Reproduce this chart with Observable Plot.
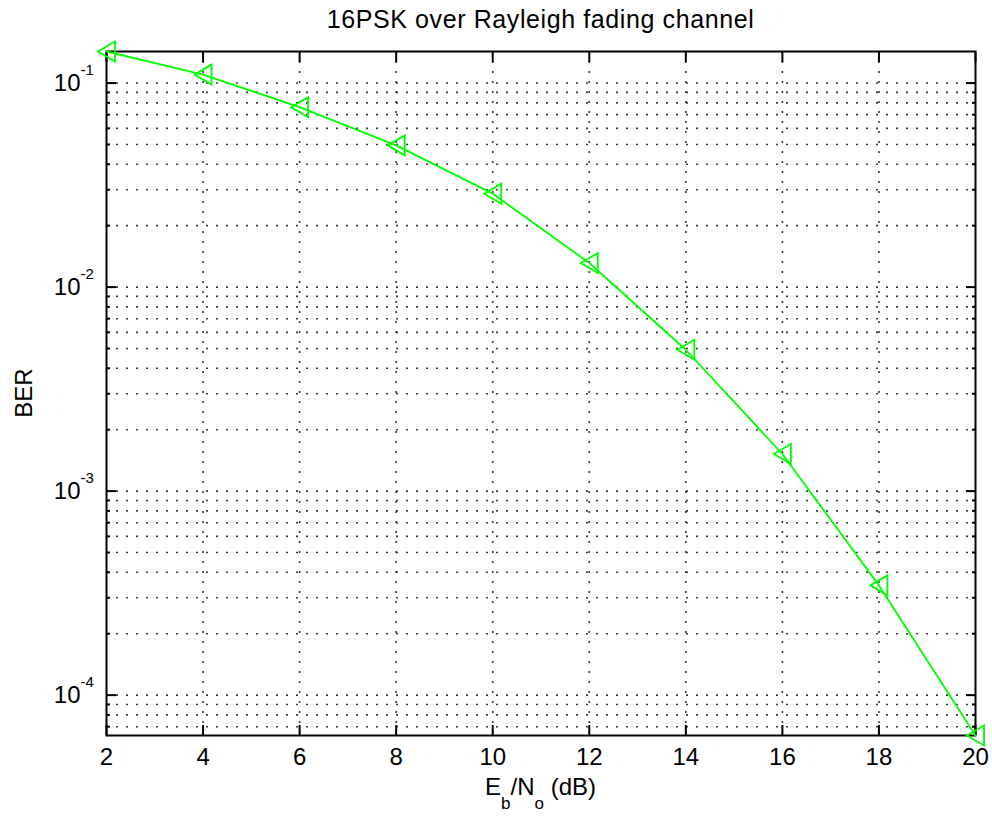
<!DOCTYPE html>
<html>
<head>
<meta charset="utf-8">
<script src="https://cdn.jsdelivr.net/npm/d3@7"></script>
<script src="https://cdn.jsdelivr.net/npm/@observablehq/plot@0.6"></script>
<style>
  html, body { margin: 0; padding: 0; background: #fff; }
</style>
</head>
<body>
<div id="chart"></div>
<script>
// ---- data ----
const ebno = [2, 4, 6, 8, 10, 12, 14, 16, 18, 20];
const ber = [0.1428, 0.110, 0.0762, 0.0495, 0.0287, 0.01312, 0.00493, 0.00152, 0.000345, 0.0000634];
const xTicks = [2, 4, 6, 8, 10, 12, 14, 16, 18, 20];
const yDecades = [1e-4, 1e-3, 1e-2, 1e-1];
const yExponents = ["-4", "-3", "-2", "-1"];
const yTickBase = "10";
const minorMultiples = [2, 3, 4, 5, 6, 7, 8, 9];
const titleText = "16PSK over Rayleigh fading channel";
const yLabelText = "BER";
const xLabelParts = [["E", false], ["b", true], ["/N", false], ["o", true], [" (dB)", false]];

// ---- derived tables ----
const data = ebno.map((x, i) => ({x, y: ber[i]}));
const yDomain = d3.extent(ber);
const yMinor = [1e-5, 1e-4, 1e-3, 1e-2, 1e-1]
  .flatMap(d => minorMultiples.map(m => d * m))
  .filter(v => v >= yDomain[0] && v <= yDomain[1]);
const yGrid = [...yMinor, ...yDecades];
const xGrid = xTicks.slice(1, -1);
const yLabels = yDecades.map((v, i) => ({v, e: yExponents[i]}));

const gridStyle = {stroke: "#3a3a3a", strokeWidth: 1.6, strokeDasharray: "2,8"};
const tickStyle = {fill: "none", stroke: "#000", strokeWidth: 2, label: null};
const green = "#00ff00";

// left-pointing open triangle (MATLAB '<' marker)
const leftTriangle = {
  draw(context, size) {
    const h = Math.sqrt(size) * 0.5;   // half of the vertical side
    const w = h * 1.7;                  // horizontal depth
    context.moveTo(-w * 0.5, 0);
    context.lineTo(w * 0.5, -h);
    context.lineTo(w * 0.5, h);
    context.closePath();
  }
};

const chart = Plot.plot({
  width: 992,
  height: 818,
  marginLeft: 106,
  marginRight: 17,
  marginTop: 51,
  marginBottom: 83,
  style: {
    fontFamily: "'Liberation Sans', Arial, Helvetica, sans-serif",
    fontSize: "24px",
    background: "#fff",
    color: "#000",
    overflow: "visible"
  },
  x: {domain: [2, 20]},
  y: {type: "log", domain: yDomain},
  marks: [
    Plot.ruleY(yGrid, gridStyle),
    Plot.ruleX(xGrid, gridStyle),
    Plot.axisX(xTicks, {anchor: "bottom", tickSize: -10, ...tickStyle}),
    Plot.axisX(xTicks, {anchor: "top", tickSize: -10, ...tickStyle}),
    Plot.axisY(yDecades, {anchor: "left", tickSize: -10, ...tickStyle}),
    Plot.axisY(yDecades, {anchor: "right", tickSize: -10, ...tickStyle}),
    Plot.axisY(yMinor, {anchor: "left", tickSize: -4, ...tickStyle}),
    Plot.axisY(yMinor, {anchor: "right", tickSize: -4, ...tickStyle}),
    Plot.axisX(xTicks, {anchor: "bottom", tickSize: 0, tickPadding: 12, fontSize: 24, label: null, tickFormat: d => String(d)}),
    Plot.text(yLabels, {y: "v", text: () => yTickBase, frameAnchor: "left", textAnchor: "end", dx: -26, fontSize: 24}),
    Plot.text(yLabels, {y: "v", text: "e", frameAnchor: "left", textAnchor: "start", dx: -26, dy: -12.5, fontSize: 15}),
    Plot.frame({stroke: "#000", strokeWidth: 2}),
    Plot.line(data, {x: "x", y: "y", stroke: green, strokeWidth: 1.8}),
    Plot.dot(data, {x: "x", y: "y", symbol: leftTriangle, r: 11.3, stroke: green, strokeWidth: 1.8, fill: "none"})
  ]
});

document.getElementById("chart").appendChild(chart);

// ---- titles / axis labels (real text with sub-scripts) ----
const svg = d3.select(chart);
const fam = "'Liberation Sans', Arial, Helvetica, sans-serif";
const cx = 106 + (992 - 106 - 17) / 2;

svg.append("text")
  .attr("x", cx).attr("y", 28)
  .attr("text-anchor", "middle")
  .attr("font-family", fam).attr("font-size", 25).attr("letter-spacing", 0.6).attr("fill", "#000")
  .text(titleText);

const xl = svg.append("text")
  .attr("x", cx).attr("y", 795)
  .attr("text-anchor", "middle")
  .attr("font-family", fam).attr("font-size", 24).attr("fill", "#000");
let down = false;
xLabelParts.forEach(([t, sub]) => {
  const ts = xl.append("tspan").text(t);
  if (sub && !down) { ts.attr("dy", 14).attr("font-size", 17); down = true; }
  else if (sub) { ts.attr("font-size", 17); }
  else if (down) { ts.attr("dy", -14); down = false; }
});

svg.append("text")
  .attr("transform", `translate(32,${51 + (818 - 51 - 83) / 2}) rotate(-90)`)
  .attr("text-anchor", "middle")
  .attr("font-family", fam).attr("font-size", 24).attr("fill", "#000")
  .text(yLabelText);
</script>
</body>
</html>
